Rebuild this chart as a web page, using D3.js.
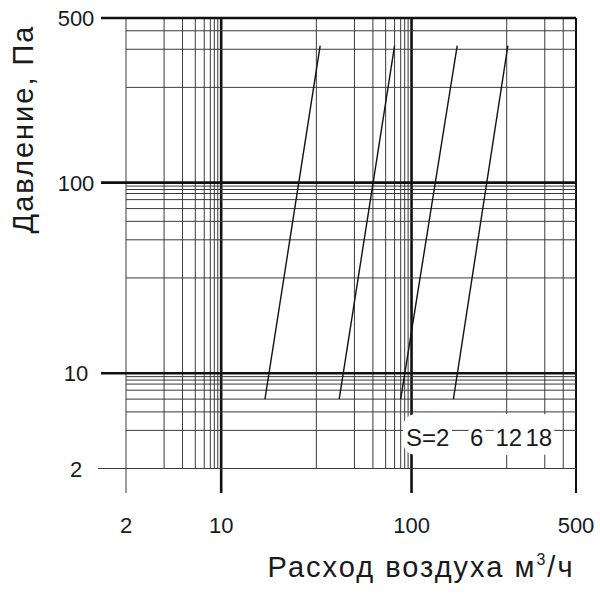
<!DOCTYPE html>
<html>
<head>
<meta charset="utf-8">
<script src="https://cdn.jsdelivr.net/npm/d3@7"></script>
<style>
  body { margin: 0; background: #fff; }
  svg text { font-family: "Liberation Sans", Arial, sans-serif; fill: #1a1a1a; }
</style>
</head>
<body>
<div id="chart"></div>
<script>
// grid values, same paper on both axes
var xGrid = [2, 3, 4, 5, 6, 7, 8, 9, 10, 20, 30, 40, 50, 60, 70, 80, 90, 100, 200, 300, 400, 500];
var yGrid = [2, 3, 4, 5, 6, 7, 8, 9, 10, 20, 30, 40, 50, 60, 70, 80, 90, 100, 200, 300, 400, 500];
var xTicks = [2, 10, 100, 500];
var yTicks = [2, 10, 100, 500];
var xBold = [10, 100, 500];
var yBold = [10, 100, 500];

// characteristic lines, one per S (flow m3/h, pressure Pa at both ends)
var sValues = [2, 6, 12, 18];
var flowLow = [14.6, 26, 70, 144];
var flowHigh = [21, 60, 148, 203];
var pressLow = [5, 5, 5, 5];
var pressHigh = [320, 320, 320, 320];

(function() {
    var W = 600, H = 598;
    var left = 126, right = 576, top = 18, bottom = 468.5;

    // the paper is not a pure log grid: position of 1..10 inside one decade
    var decade = d3.scaleLinear()
        .domain([1, 2, 3, 4, 5, 6, 7, 8, 9, 10])
        .range([0, 0.5, 0.70, 0.797, 0.864, 0.911, 0.943, 0.964, 0.982, 1]);
    var warp = function(v) {
        var e = Math.floor(Math.log10(v) + 1e-9);
        return e + decade(v / Math.pow(10, e));
    };
    var xs = d3.scaleLinear().domain([warp(2), warp(500)]).range([left, right]);
    var ys = d3.scaleLinear().domain([warp(2), warp(500)]).range([bottom, top]);
    var x = function(v) { return xs(warp(v)); };
    var y = function(v) { return ys(warp(v)); };

    var svg = d3.select('#chart').append('svg')
        .attr('width', W)
        .attr('height', H);

    // GRID vertical
    svg.append('g').selectAll('line').data(xGrid).enter()
        .append('line')
            .attr('x1', function(d) { return x(d); })
            .attr('x2', function(d) { return x(d); })
            .attr('y1', top)
            .attr('y2', function(d) { return xTicks.indexOf(d) >= 0 ? 493 : bottom; })
            .attr('stroke', function(d) { return xBold.indexOf(d) >= 0 ? '#111' : '#3a3a3a'; })
            .attr('stroke-width', function(d) { return xBold.indexOf(d) >= 0 ? (d == 500 ? 2 : 2.6) : 1; });

    // GRID horizontal
    svg.append('g').selectAll('line').data(yGrid).enter()
        .append('line')
            .attr('y1', function(d) { return y(d); })
            .attr('y2', function(d) { return y(d); })
            .attr('x1', function(d) { return yTicks.indexOf(d) >= 0 ? (d == 2 ? 98 : 101) : left; })
            .attr('x2', right)
            .attr('stroke', function(d) { return yBold.indexOf(d) >= 0 ? '#111' : '#3a3a3a'; })
            .attr('stroke-width', function(d) { return yBold.indexOf(d) >= 0 ? 2.6 : 1; });

    // tick labels
    svg.append('g').selectAll('text').data(xTicks).enter()
        .append('text')
            .attr('x', function(d) { return x(d); })
            .attr('y', 533)
            .attr('text-anchor', 'middle')
            .style('font-size', '22px')
            .text(function(d) { return d; });

    svg.append('g').selectAll('text').data(yTicks).enter()
        .append('text')
            .attr('x', 76)
            .attr('y', function(d) { return y(d) + 8; })
            .attr('text-anchor', 'middle')
            .style('font-size', '22px')
            .text(function(d) { return d; });

    // S lines
    var line = d3.line()
        .x(function(p) { return x(p[0]); })
        .y(function(p) { return y(p[1]); });
    var curves = sValues.map(function(s, i) {
        return [[flowLow[i], pressLow[i]], [flowHigh[i], pressHigh[i]]];
    });
    svg.append('g').selectAll('path').data(curves).enter()
        .append('path')
            .attr('d', line)
            .attr('fill', 'none')
            .attr('stroke', '#111')
            .attr('stroke-width', 1.4);

    // legend bubble, knocks out the grid behind the labels
    svg.append('rect')
        .attr('x', 403).attr('y', 414)
        .attr('width', 152).attr('height', 41)
        .attr('rx', 13)
        .attr('fill', '#fff');
    svg.append('line')
        .attr('x1', 452).attr('x2', 556)
        .attr('y1', y(3)).attr('y2', y(3))
        .attr('stroke', '#3a3a3a');
    var labelX = [406, 470, 495.5, 525.5];
    svg.append('g').selectAll('text').data(sValues).enter()
        .append('text')
            .attr('x', function(d, i) { return labelX[i]; })
            .attr('y', 446)
            .style('font-size', '24px')
            .style('stroke', '#fff')
            .style('stroke-width', 8)
            .style('paint-order', 'stroke')
            .text(function(d, i) { return i == 0 ? 'S=' + d : d; });

    // axis titles
    var xt = svg.append('text')
        .attr('x', 421)
        .attr('y', 577)
        .attr('text-anchor', 'middle')
        .style('font-size', '29px')
        .style('letter-spacing', '2px');
    xt.append('tspan').text('Расход воздуха м');
    xt.append('tspan').attr('dy', -12).style('font-size', '16px').text('3');
    xt.append('tspan').attr('dy', 12).text('/ч');

    svg.append('text')
        .attr('transform', 'translate(33,129) rotate(-90)')
        .attr('text-anchor', 'middle')
        .style('font-size', '29px')
        .style('letter-spacing', '2px')
        .text('Давление, Па');
}());
</script>
</body>
</html>
